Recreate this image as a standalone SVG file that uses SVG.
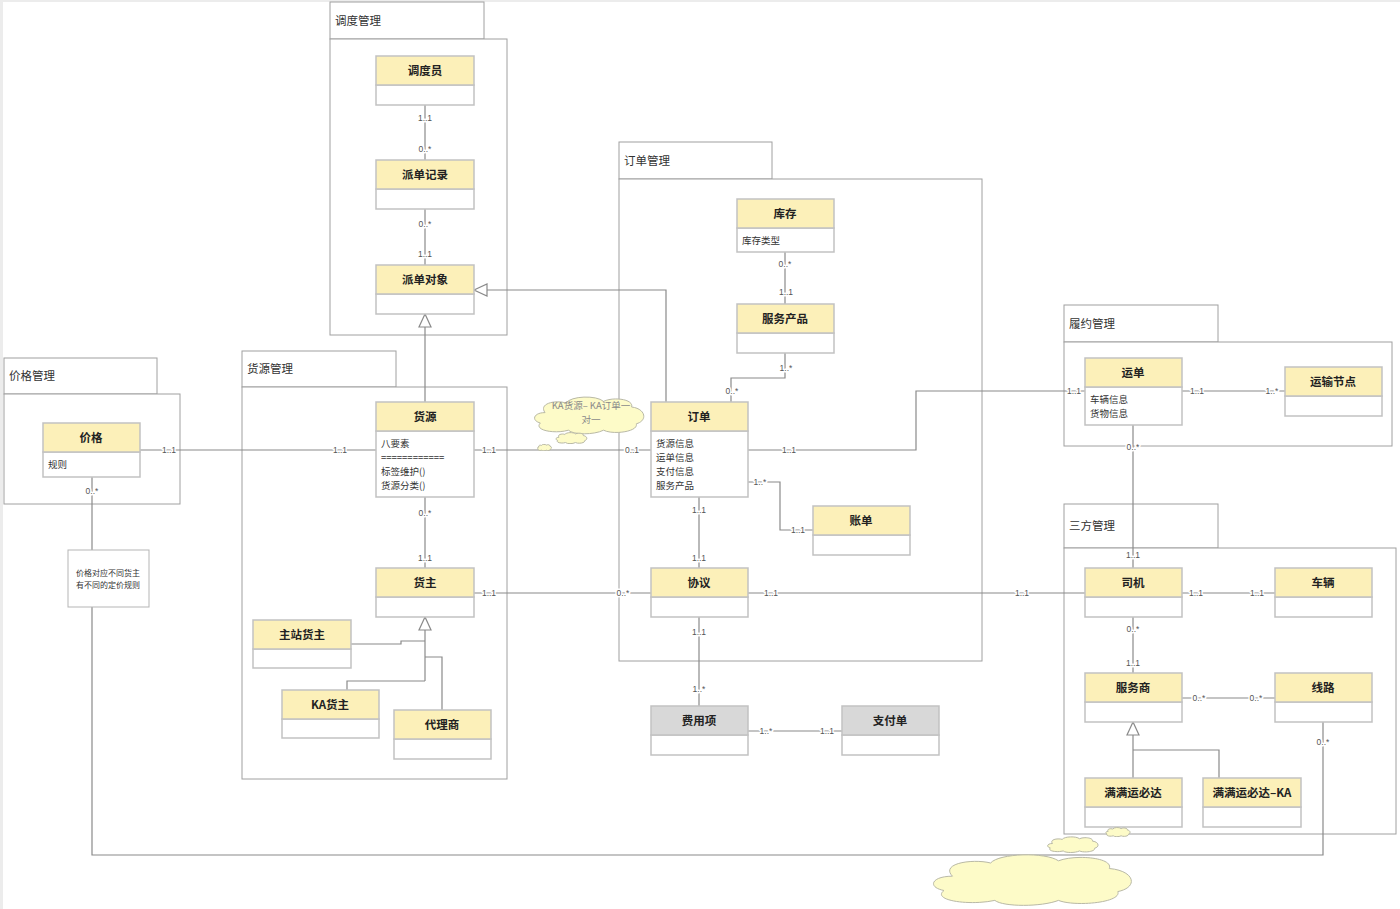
<svg xmlns="http://www.w3.org/2000/svg" xmlns:xlink="http://www.w3.org/1999/xlink" width="1400" height="909" viewBox="0 0 1400 909">
<style>
.pk{fill:#fff;stroke:#a0a0a0;stroke-width:1}
.hd{fill:#fcf0b9;stroke:#c2c2c2;stroke-width:1.5}
.hg{fill:#d8d8d8;stroke:#c2c2c2;stroke-width:1.5}
.bd{fill:#fff;stroke:#c2c2c2;stroke-width:1.5}
.cn{font-family:"Noto Sans CJK SC","Liberation Sans",sans-serif;font-size:11.5px;font-weight:bold;fill:#222;text-anchor:middle}
.at{font-family:"Noto Sans CJK SC","Liberation Sans",sans-serif;font-size:9.5px;fill:#333}
.pt{font-family:"Noto Sans CJK SC","Liberation Sans",sans-serif;font-size:11.5px;fill:#333}
.ln{fill:none;stroke:#8a8a8a;stroke-width:1.2}
.m{font-family:"Liberation Sans",sans-serif;font-size:8.5px;fill:#555;text-anchor:middle;stroke:#fff;stroke-width:3;paint-order:stroke;stroke-linejoin:round}
.tri{fill:#fff;stroke:#8a8a8a;stroke-width:1.2}
.cl{fill:#fdfbc8;stroke:#b9b9a6;stroke-width:1}
.ct{font-family:"Noto Sans CJK SC","Liberation Sans",sans-serif;font-size:9.5px;fill:#888;text-anchor:middle}
.nt{font-family:"Noto Sans CJK SC","Liberation Sans",sans-serif;font-size:8px;fill:#333;text-anchor:middle}
</style>
<defs>
<symbol id="cloud" viewBox="0 0 100 50" preserveAspectRatio="none">
<path class="cl" vector-effect="non-scaling-stroke" d="M12,22 C6,10 22,6 30,10 C34,1 56,0 62,8 C70,2 88,5 86,15 C98,17 100,32 90,36 C92,46 70,50 62,44 C54,50 36,50 32,44 C20,49 2,44 8,35 C0,32 2,22 12,22 Z"/>
</symbol>
</defs>
<rect x="0" y="0" width="1400" height="909" fill="#fff"/>
<rect x="0" y="0" width="1400" height="2" fill="#ececec"/>
<rect x="0" y="0" width="3" height="909" fill="#ececec"/>

<!-- packages -->
<g id="pkg-diaodu"><rect class="pk" x="330" y="2" width="154" height="37"/><rect class="pk" x="330" y="39" width="177" height="296"/><text class="pt" x="335" y="25">调度管理</text></g>
<g id="pkg-jiage"><rect class="pk" x="4" y="358" width="153" height="36"/><rect class="pk" x="4" y="394" width="176" height="110"/><text class="pt" x="9" y="380">价格管理</text></g>
<g id="pkg-huoyuan"><rect class="pk" x="242" y="351" width="154" height="36"/><rect class="pk" x="242" y="387" width="265" height="392"/><text class="pt" x="247" y="373">货源管理</text></g>
<g id="pkg-dingdan"><rect class="pk" x="619" y="142" width="153" height="37"/><rect class="pk" x="619" y="179" width="363" height="482"/><text class="pt" x="624" y="165">订单管理</text></g>
<g id="pkg-lvyue"><rect class="pk" x="1064" y="305" width="154" height="37"/><rect class="pk" x="1064" y="342" width="328" height="104"/><text class="pt" x="1069" y="328">履约管理</text></g>
<g id="pkg-sanfang"><rect class="pk" x="1064" y="504" width="154" height="44"/><rect class="pk" x="1064" y="548" width="332" height="286"/><text class="pt" x="1069" y="530">三方管理</text></g>

<!-- connectors -->
<g id="connectors">
<path class="ln" d="M425,105 V160"/>
<path class="ln" d="M425,209 V265"/>
<path class="ln" d="M425,402 V327"/>
<path class="tri" d="M425,314 L419,327 L431,327 Z"/>
<path class="ln" d="M666,402 V290 H487"/>
<path class="tri" d="M474,290 L487,284 L487,296 Z"/>
<path class="ln" d="M140,450 H376"/>
<path class="ln" d="M92,477 V550"/>
<path class="ln" d="M92,607 V855 H1323 V722"/>
<path class="ln" d="M474,450 H651"/>
<path class="ln" d="M425,497 V568"/>
<path class="ln" d="M425,630 V681"/>
<path class="tri" d="M425,617 L419,630 L431,630 Z"/>
<path class="ln" d="M351,644 H401 V641 H425"/>
<path class="ln" d="M347,690 V681 H425"/>
<path class="ln" d="M442,710 V657 H425"/>
<path class="ln" d="M474,593 H651"/>
<path class="ln" d="M785,252 V304"/>
<path class="ln" d="M785,353 V378 H731 V402"/>
<path class="ln" d="M748,450 H916 V391 H1085"/>
<path class="ln" d="M748,482 H780 V530 H813"/>
<path class="ln" d="M699,497 V568"/>
<path class="ln" d="M748,593 H1085"/>
<path class="ln" d="M699,617 V706"/>
<path class="ln" d="M748,731 H842"/>
<path class="ln" d="M1182,391 H1285"/>
<path class="ln" d="M1133,425 V568"/>
<path class="ln" d="M1182,593 H1275"/>
<path class="ln" d="M1133,617 V673"/>
<path class="ln" d="M1182,698 H1275"/>
<path class="ln" d="M1133,778 V735"/>
<path class="tri" d="M1133,722 L1127,735 L1139,735 Z"/>
<path class="ln" d="M1219,778 V750 H1133"/>
<text class="m" x="425" y="121">1..1</text>
<text class="m" x="425" y="152">0..*</text>
<text class="m" x="425" y="227">0..*</text>
<text class="m" x="425" y="257">1..1</text>
<text class="m" x="169" y="453">1..1</text>
<text class="m" x="340" y="453">1..1</text>
<text class="m" x="92" y="494">0..*</text>
<text class="m" x="489" y="453">1..1</text>
<text class="m" x="632" y="453">0..1</text>
<text class="m" x="425" y="516">0..*</text>
<text class="m" x="425" y="561">1..1</text>
<text class="m" x="489" y="596">1..1</text>
<text class="m" x="623" y="596">0..*</text>
<text class="m" x="785" y="267">0..*</text>
<text class="m" x="786" y="295">1..1</text>
<text class="m" x="786" y="371">1..*</text>
<text class="m" x="732" y="394">0..*</text>
<text class="m" x="789" y="453">1..1</text>
<text class="m" x="1074" y="394">1..1</text>
<text class="m" x="760" y="485">1..*</text>
<text class="m" x="798" y="533">1..1</text>
<text class="m" x="699" y="513">1..1</text>
<text class="m" x="699" y="561">1..1</text>
<text class="m" x="771" y="596">1..1</text>
<text class="m" x="1022" y="596">1..1</text>
<text class="m" x="699" y="635">1..1</text>
<text class="m" x="699" y="692">1..*</text>
<text class="m" x="766" y="734">1..*</text>
<text class="m" x="827" y="734">1..1</text>
<text class="m" x="1197" y="394">1..1</text>
<text class="m" x="1272" y="394">1..*</text>
<text class="m" x="1133" y="450">0..*</text>
<text class="m" x="1133" y="558">1..1</text>
<text class="m" x="1196" y="596">1..1</text>
<text class="m" x="1257" y="596">1..1</text>
<text class="m" x="1133" y="632">0..*</text>
<text class="m" x="1133" y="666">1..1</text>
<text class="m" x="1199" y="701">0..*</text>
<text class="m" x="1256" y="701">0..*</text>
<text class="m" x="1323" y="745">0..*</text>
</g>

<!-- clouds -->
<g id="cloud-ka">
<use xlink:href="#cloud" href="#cloud" x="531" y="395" width="117" height="40"/>
<use xlink:href="#cloud" href="#cloud" x="555" y="432" width="33" height="12"/>
<use xlink:href="#cloud" href="#cloud" x="537" y="444" width="15" height="7"/>
<text class="ct" x="591" y="409">KA货源– KA订单一</text>
<text class="ct" x="591" y="423">对一</text>
</g>

<!-- classes -->
<g id="c-diaoduyuan"><rect class="bd" x="376" y="85" width="98" height="20"/><rect class="hd" x="376" y="56" width="98" height="29"/><text class="cn" x="425" y="75">调度员</text></g>
<g id="c-paidanjilu"><rect class="bd" x="376" y="189" width="98" height="20"/><rect class="hd" x="376" y="160" width="98" height="29"/><text class="cn" x="425" y="179">派单记录</text></g>
<g id="c-paidanduixiang"><rect class="bd" x="376" y="294" width="98" height="20"/><rect class="hd" x="376" y="265" width="98" height="29"/><text class="cn" x="425" y="284">派单对象</text></g>
<g id="c-jiage"><rect class="bd" x="43" y="452" width="97" height="25"/><rect class="hd" x="43" y="423" width="97" height="29"/><text class="cn" x="91" y="442">价格</text><text class="at" x="48" y="468">规则</text></g>
<g id="c-huoyuan"><rect class="bd" x="376" y="431" width="98" height="66"/><rect class="hd" x="376" y="402" width="98" height="29"/><text class="cn" x="425" y="421">货源</text>
<text class="at" x="381" y="447">八要素</text><text class="at" x="381" y="461" fill="#777">============</text><text class="at" x="381" y="475">标签维护()</text><text class="at" x="381" y="489">货源分类()</text></g>
<g id="c-huozhu"><rect class="bd" x="376" y="597" width="98" height="20"/><rect class="hd" x="376" y="568" width="98" height="29"/><text class="cn" x="425" y="587">货主</text></g>
<g id="c-zhuzhanhuozhu"><rect class="bd" x="253" y="649" width="98" height="19"/><rect class="hd" x="253" y="620" width="98" height="29"/><text class="cn" x="302" y="639">主站货主</text></g>
<g id="c-kahuozhu"><rect class="bd" x="282" y="719" width="97" height="19"/><rect class="hd" x="282" y="690" width="97" height="29"/><text class="cn" x="330" y="709">KA货主</text></g>
<g id="c-dailishang"><rect class="bd" x="394" y="739" width="97" height="20"/><rect class="hd" x="394" y="710" width="97" height="29"/><text class="cn" x="442" y="729">代理商</text></g>
<g id="c-kucun"><rect class="bd" x="737" y="228" width="97" height="24"/><rect class="hd" x="737" y="199" width="97" height="29"/><text class="cn" x="785" y="218">库存</text><text class="at" x="742" y="244">库存类型</text></g>
<g id="c-fuwuchanpin"><rect class="bd" x="737" y="333" width="97" height="20"/><rect class="hd" x="737" y="304" width="97" height="29"/><text class="cn" x="785" y="323">服务产品</text></g>
<g id="c-dingdan"><rect class="bd" x="651" y="431" width="97" height="66"/><rect class="hd" x="651" y="402" width="97" height="29"/><text class="cn" x="699" y="421">订单</text>
<text class="at" x="656" y="447">货源信息</text><text class="at" x="656" y="461">运单信息</text><text class="at" x="656" y="475">支付信息</text><text class="at" x="656" y="489">服务产品</text></g>
<g id="c-zhangdan"><rect class="bd" x="813" y="535" width="97" height="20"/><rect class="hd" x="813" y="506" width="97" height="29"/><text class="cn" x="861" y="525">账单</text></g>
<g id="c-xieyi"><rect class="bd" x="651" y="597" width="97" height="20"/><rect class="hd" x="651" y="568" width="97" height="29"/><text class="cn" x="699" y="587">协议</text></g>
<g id="c-feiyongxiang"><rect class="bd" x="651" y="735" width="97" height="20"/><rect class="hg" x="651" y="706" width="97" height="29"/><text class="cn" x="699" y="725">费用项</text></g>
<g id="c-zhifudan"><rect class="bd" x="842" y="735" width="97" height="20"/><rect class="hg" x="842" y="706" width="97" height="29"/><text class="cn" x="890" y="725">支付单</text></g>
<g id="c-yundan"><rect class="bd" x="1085" y="387" width="97" height="38"/><rect class="hd" x="1085" y="358" width="97" height="29"/><text class="cn" x="1133" y="377">运单</text>
<text class="at" x="1090" y="403">车辆信息</text><text class="at" x="1090" y="417">货物信息</text></g>
<g id="c-yunshujiedian"><rect class="bd" x="1285" y="396" width="97" height="20"/><rect class="hd" x="1285" y="367" width="97" height="29"/><text class="cn" x="1333" y="386">运输节点</text></g>
<g id="c-siji"><rect class="bd" x="1085" y="597" width="97" height="20"/><rect class="hd" x="1085" y="568" width="97" height="29"/><text class="cn" x="1133" y="587">司机</text></g>
<g id="c-cheliang"><rect class="bd" x="1275" y="597" width="97" height="20"/><rect class="hd" x="1275" y="568" width="97" height="29"/><text class="cn" x="1323" y="587">车辆</text></g>
<g id="c-fuwushang"><rect class="bd" x="1085" y="702" width="97" height="20"/><rect class="hd" x="1085" y="673" width="97" height="29"/><text class="cn" x="1133" y="692">服务商</text></g>
<g id="c-xianlu"><rect class="bd" x="1275" y="702" width="97" height="20"/><rect class="hd" x="1275" y="673" width="97" height="29"/><text class="cn" x="1323" y="692">线路</text></g>
<g id="c-manmanyun"><rect class="bd" x="1085" y="807" width="97" height="20"/><rect class="hd" x="1085" y="778" width="97" height="29"/><text class="cn" x="1133" y="797">满满运必达</text></g>
<g id="c-manmanyun-ka"><rect class="bd" x="1203" y="807" width="98" height="20"/><rect class="hd" x="1203" y="778" width="98" height="29"/><text class="cn" x="1252" y="797">满满运必达–KA</text></g>

<!-- note -->
<g id="note-jiage"><rect x="68" y="550" width="81" height="57" fill="#fff" stroke="#b5b5b5" stroke-width="1"/><text class="nt" x="108" y="576">价格对应不同货主</text><text class="nt" x="108" y="588">有不同的定价规则</text></g>

<g id="cloud-bottom">
<use xlink:href="#cloud" href="#cloud" x="927" y="852" width="212" height="55"/>
<use xlink:href="#cloud" href="#cloud" x="1046" y="836" width="54" height="17"/>
<use xlink:href="#cloud" href="#cloud" x="1105" y="827" width="26" height="10"/>
</g>
</svg>
